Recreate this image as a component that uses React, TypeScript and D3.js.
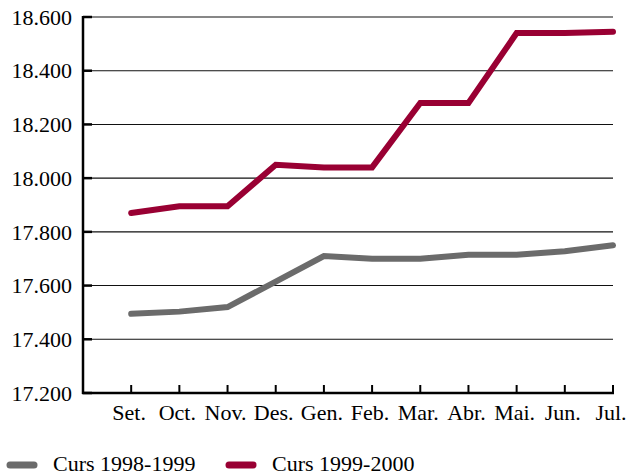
import React from "react";
import * as d3 from "d3";

const months = ["Set.", "Oct.", "Nov.", "Des.", "Gen.", "Feb.", "Mar.", "Abr.", "Mai.", "Jun.", "Jul."];
const curs9899 = [17495, 17503, 17520, 17615, 17710, 17700, 17700, 17715, 17715, 17728, 17750];
const curs9900 = [17870, 17895, 17895, 18050, 18040, 18040, 18280, 18280, 18540, 18540, 18545];
const yTicks = [17200, 17400, 17600, 17800, 18000, 18200, 18400, 18600];
const seriesNames = ["Curs 1998-1999", "Curs 1999-2000"];
const seriesColors = ["#6b6b6b", "#990033"];

const W = 637;
const H = 476;
const left = 83;
const right = 613;
const top = 17;
const bottom = 393;
const font = "'Liberation Serif', 'Times New Roman', serif";

const fmt = (v: number) => {
  const s = String(v);
  return s.slice(0, s.length - 3) + "." + s.slice(-3);
};

export default function App() {
  const x = d3.scaleLinear().domain([-1, months.length - 1]).range([left, right]);
  const y = d3.scaleLinear().domain([17200, 18600]).range([bottom, top]);
  const line = d3
    .line<number>()
    .x((_, i) => x(i))
    .y((d) => y(d));
  const series = [curs9899, curs9900];

  return (
    <svg
      width={W}
      height={H}
      style={{ position: "absolute", left: 0, top: 0, background: "#fff" }}
    >
      {yTicks.map((t) => (
        <g key={t}>
          {t !== 17200 && (
            <line x1={left} x2={right} y1={y(t)} y2={y(t)} stroke="#111" strokeWidth={1.1} />
          )}
          <line x1={left} x2={left + 9} y1={y(t)} y2={y(t)} stroke="#000" strokeWidth={2.5} />
          <text
            x={72}
            y={y(t)}
            dy="0.35em"
            textAnchor="end"
            fontFamily={font}
            fontSize={22}
            fill="#000"
          >
            {fmt(t)}
          </text>
        </g>
      ))}
      <line x1={left} x2={left} y1={top - 1} y2={bottom + 1} stroke="#000" strokeWidth={2.5} />
      <line x1={left - 1} x2={right + 1} y1={bottom} y2={bottom} stroke="#000" strokeWidth={2.5} />
      {months.map((m, i) => (
        <g key={m}>
          <line x1={x(i)} x2={x(i)} y1={bottom} y2={bottom - 8} stroke="#000" strokeWidth={2} />
          <text
            x={x(i) - 2}
            y={420}
            textAnchor="middle"
            fontFamily={font}
            fontSize={22}
            fill="#000"
          >
            {m}
          </text>
        </g>
      ))}
      {series.map((s, k) => (
        <path
          key={k}
          d={line(s) || ""}
          fill="none"
          stroke={seriesColors[k]}
          strokeWidth={6}
          strokeLinecap="round"
          strokeLinejoin="miter"
        />
      ))}
      {seriesNames.map((n, k) => {
        const lx = k === 0 ? 8 : 227;
        return (
          <g key={n}>
            <line
              x1={lx + 2}
              x2={lx + 26}
              y1={465}
              y2={465}
              stroke={seriesColors[k]}
              strokeWidth={7}
              strokeLinecap="round"
            />
            <text x={lx + 45} y={471} fontFamily={font} fontSize={22} fill="#000">
              {n}
            </text>
          </g>
        );
      })}
    </svg>
  );
}
